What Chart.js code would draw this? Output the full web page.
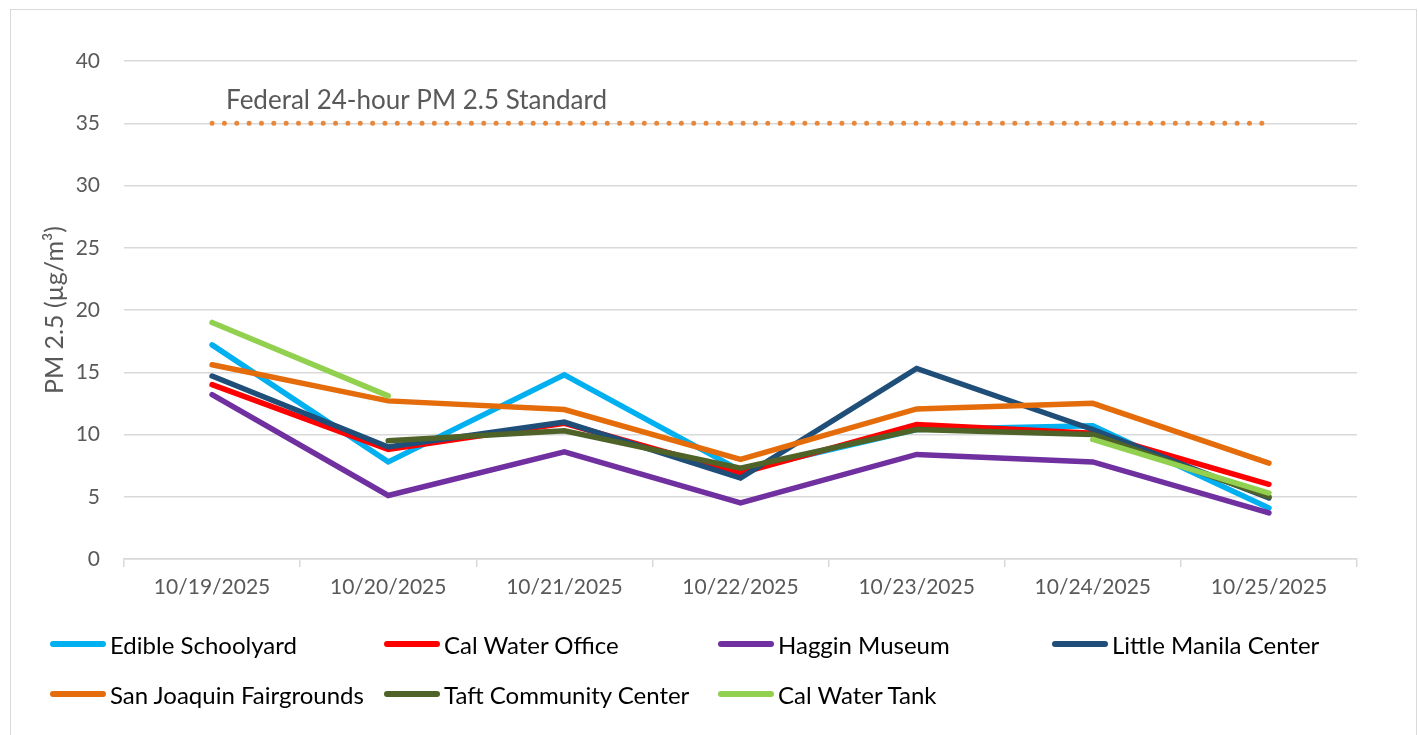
<!DOCTYPE html>
<html>
<head>
<meta charset="utf-8">
<script src="https://cdn.jsdelivr.net/npm/chart.js@4"></script>
<style>
  body { margin: 0; background: #fff; width: 1418px; height: 735px; overflow: hidden; position: relative; font-family: Lato, sans-serif; }
  #frame { position: absolute; left: 10px; top: 9px; width: 1405px; height: 760px; border: 1.5px solid #d9d9d9; }
  #chart { position: absolute; left: 0; top: 0; }
  #legend { position: absolute; left: 50px; top: 619px; display: grid; grid-template-columns: repeat(4, 334px); grid-auto-rows: 50px; }
  .item { display: flex; align-items: center; font-size: 24px; color: #000; white-space: nowrap; }
  .swatch { width: 56px; height: 6px; border-radius: 3px; margin-right: 4px; }
</style>
</head>
<body>
<div id="frame"></div>
<canvas id="chart" width="1418" height="735"></canvas>
<div id="legend"></div>
<script>
const dates = ['10/19/2025', '10/20/2025', '10/21/2025', '10/22/2025', '10/23/2025', '10/24/2025', '10/25/2025'];

const edibleSchoolyard = [17.2, 7.8, 14.8, 7.1, 10.4, 10.7, 4.1];
const calWaterOffice   = [14.0, 8.8, 10.9, 6.9, 10.8, 10.1, 6.0];
const hagginMuseum     = [13.2, 5.1, 8.6, 4.5, 8.4, 7.8, 3.7];
const littleManila     = [14.7, 9.0, 11.0, 6.5, 15.3, 10.4, 4.9];
const sanJoaquinFair   = [15.6, 12.7, 12.0, 8.0, 12.05, 12.5, 7.7];
const taftCommunity    = [null, 9.5, 10.3, 7.3, 10.4, 10.0, 5.0];
const calWaterTank     = [19.0, 13.1, null, null, null, 9.6, 5.3];

const federalStandard = 35;
const standardLabel = 'Federal 24-hour PM 2.5 Standard';

const series = [
  { name: 'Edible Schoolyard', data: edibleSchoolyard, color: '#00b0f0' },
  { name: 'Cal Water Office', data: calWaterOffice, color: '#ff0000' },
  { name: 'Haggin Museum', data: hagginMuseum, color: '#7030a0' },
  { name: 'Little Manila Center', data: littleManila, color: '#1f4e79' },
  { name: 'San Joaquin Fairgrounds', data: sanJoaquinFair, color: '#e46c0a' },
  { name: 'Taft Community Center', data: taftCommunity, color: '#4f6228' },
  { name: 'Cal Water Tank', data: calWaterTank, color: '#92d050' }
];

const datasets = series.map((s, i) => ({
  label: s.name,
  data: s.data,
  borderColor: s.color,
  backgroundColor: s.color,
  borderWidth: 5.5,
  borderCapStyle: 'round',
  pointRadius: 0,
  spanGaps: false,
  order: series.length - i
}));

datasets.push({
  label: standardLabel,
  data: dates.map(() => federalStandard),
  borderColor: '#e8873a',
  borderWidth: 5,
  borderDash: [0, 12.35],
  borderCapStyle: 'round',
  pointRadius: 0,
  order: 10
});

// text above the standard line
const standardText = {
  id: 'standardText',
  afterDatasetsDraw(chart) {
    const x = chart.scales.x, y = chart.scales.y, c = chart.ctx;
    c.save();
    c.font = '26px Lato';
    c.fillStyle = '#595959';
    c.textAlign = 'left';
    c.textBaseline = 'middle';
    c.fillText(standardLabel, x.getPixelForValue(0) + 14, y.getPixelForValue(federalStandard + 1.8));
    c.restore();
  }
};

new Chart(document.getElementById('chart'), {
  type: 'line',
  data: { labels: dates, datasets: datasets },
  options: {
    responsive: false,
    animation: false,
    layout: { padding: { left: 36, right: 61, top: 61, bottom: 116 } },
    plugins: { legend: { display: false }, tooltip: { enabled: false } },
    scales: {
      x: {
        offset: true,
        afterFit: s => { s.height = 60; },
        grid: { offset: true, drawOnChartArea: false, drawTicks: true, tickLength: 8, color: '#d9d9d9', lineWidth: 1.5 },
        border: { display: true, color: '#d9d9d9', width: 1.5 },
        ticks: { color: '#595959', font: { family: 'Lato', size: 21 }, padding: 8, maxRotation: 0 }
      },
      y: {
        min: 0,
        max: 40,
        afterFit: s => { s.width = 88; },
        ticks: { stepSize: 5, color: '#595959', font: { family: 'Lato', size: 21 }, padding: 24 },
        grid: { color: '#d9d9d9', lineWidth: 1.5, drawTicks: false },
        border: { display: false },
        title: { display: true, text: 'PM 2.5 (µg/m³)', color: '#595959', font: { family: 'Lato', size: 25 } }
      }
    }
  },
  plugins: [standardText]
});

const legend = document.getElementById('legend');
series.forEach(s => {
  const item = document.createElement('div');
  item.className = 'item';
  const sw = document.createElement('span');
  sw.className = 'swatch';
  sw.style.background = s.color;
  item.appendChild(sw);
  item.appendChild(document.createTextNode(s.name));
  legend.appendChild(item);
});
</script>
</body>
</html>
